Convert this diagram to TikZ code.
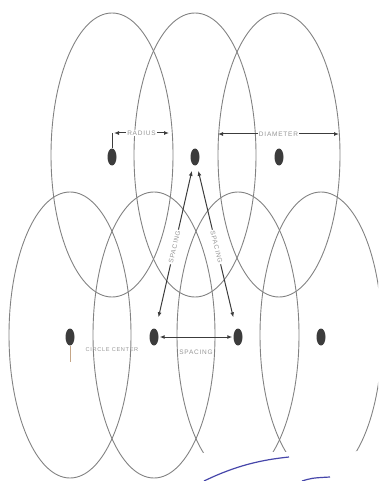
\documentclass[tikz,border=0pt]{standalone}
\usepackage{fontspec}
\usetikzlibrary{arrows.meta,shapes.geometric}
\newfontfamily\lblfont[LetterSpace=12]{Liberation Sans}
\definecolor{ringgray}{RGB}{130,130,130}
\definecolor{dotgray}{RGB}{60,60,60}
\definecolor{txtgray}{RGB}{150,150,150}
\definecolor{penblue}{RGB}{70,70,170}
\tikzset{
  ring/.style={draw=ringgray, line width=0.9pt},
  spot/.style={ellipse, fill=dotgray, draw=none, inner sep=0pt, minimum width=9pt, minimum height=17pt},
  dim/.style={draw=dotgray, line width=1pt, {Latex[length=5pt,width=4pt]}-{Latex[length=5pt,width=4pt]}},
  lbl/.style={font=\lblfont\fontsize{6.5}{7}\selectfont, text=txtgray, inner sep=1pt}
}
\begin{document}
\begin{tikzpicture}[x=1pt,y=-1pt]
\useasboundingbox (0,0) rectangle (378,481);
\begin{scope}
\clip (0,0) rectangle (378,481);
% top row of circles
\foreach \cx in {112,195,279}
  \draw[ring] (\cx,155) ellipse [x radius=61, y radius=142];
% bottom row of circles
\foreach \cx in {70,154,238,321}
  \draw[ring] (\cx,335) ellipse [x radius=61, y radius=143];
\end{scope}

% centres
\node[spot] (T1) at (112,157) {};
\node[spot] (T2) at (195,157) {};
\node[spot] (T3) at (279,157) {};
\node[spot] (B1) at (70,337) {};
\node[spot] (B2) at (154,337) {};
\node[spot] (B3) at (238,337) {};
\node[spot] (B4) at (321,337) {};

% radius
\coordinate (R0) at (112,133);
\coordinate (R1) at (114,133);
\coordinate (R2) at (169,133);
\draw[draw=dotgray, line width=1pt] (T1) -- (R0);
\draw[dim] (R1) -- node[lbl, fill=white] {RADIUS} (R2);

% diameter
\coordinate (D1) at (218,134);
\coordinate (D2) at (339,134);
\draw[dim] (D1) -- node[lbl, fill=white] {DIAMETER} (D2);

% spacing
\draw[dim, shorten <=6pt, shorten >=12pt] (T2) -- node[lbl, fill=white, sloped] {SPACING} (B2);
\draw[dim, shorten <=6pt, shorten >=12pt] (T2) -- node[lbl, fill=white, sloped] {SPACING} (B3);
\draw[dim, shorten <=1pt, shorten >=1pt] (B2) -- (B3);
\node[lbl] (spc) at (196,352) {SPACING};

% centre mark
\coordinate (C0) at (70,362);
\draw[draw=orange!35!gray!70, line width=0.8pt] (B1) -- (C0);
\node[lbl, font=\lblfont\fontsize{5.6}{6}\selectfont] (ctr) at (112,350) {CIRCLE CENTER};

% torn corner and pen stroke
\fill[white] (180,481) -- (180,468) -- (200,453) -- (378,451) -- (378,481) -- cycle;
\coordinate (P1) at (204,481);
\coordinate (P2) at (289,457);
\draw[penblue, line width=1.2pt] (P1) .. controls (235,466) and (260,460) .. (P2);
\coordinate (P3) at (302,481);
\coordinate (P4) at (330,477);
\draw[penblue, line width=1.2pt] (P3) .. controls (312,478) .. (P4);
\end{tikzpicture}
\end{document}
